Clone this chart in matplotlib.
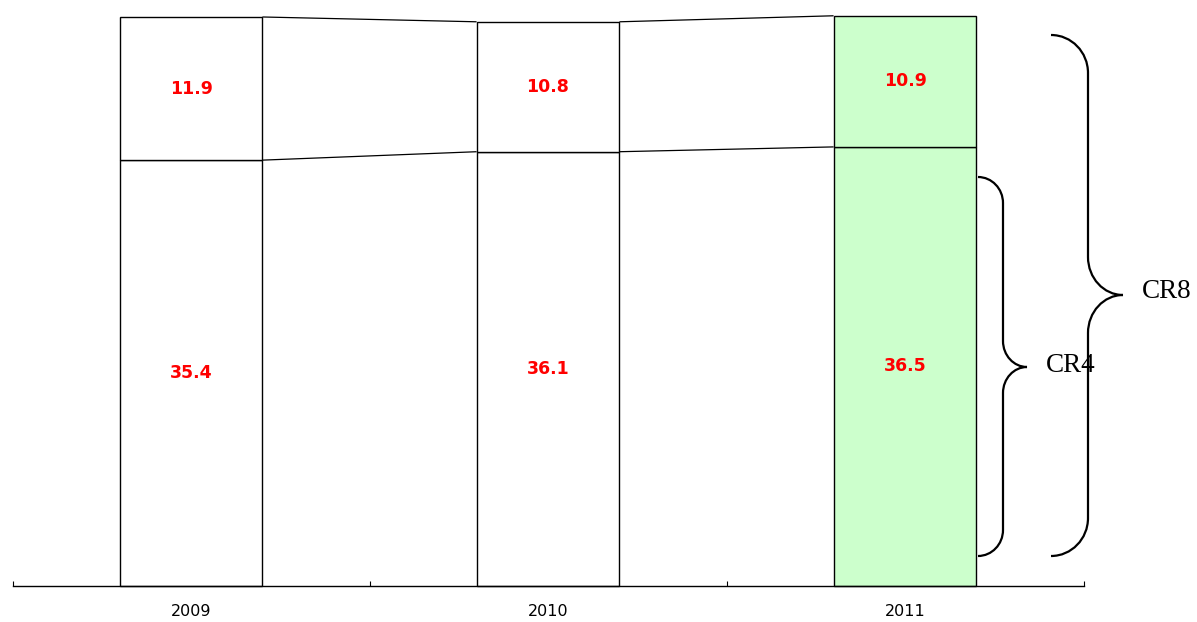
import matplotlib
matplotlib.use("Agg")
import matplotlib.pyplot as plt
from matplotlib.path import Path
from matplotlib.patches import PathPatch
import numpy as np

years = ["2009", "2010", "2011"]
cr4 = [35.4, 36.1, 36.5]
top4 = [11.9, 10.8, 10.9]
fills = ["white", "white", "#CCFFCC"]

W, H = 1197, 622
fig = plt.figure(figsize=(W / 100, H / 100), dpi=100)
base_px = 586
ppu = 12.03
ax_h_px = 580
ax = fig.add_axes([12.5 / W, 1 - base_px / H, (1083.5 - 12.5) / W, ax_h_px / H])
ax.set_xlim(-0.5, 2.5)
ax.set_ylim(0, ax_h_px / ppu)

x = np.arange(len(years))
bw = 0.4
ax.bar(x, cr4, width=bw, color=fills, edgecolor="black", linewidth=1.0, clip_on=False)
ax.bar(x, top4, bottom=cr4, width=bw, color=fills, edgecolor="black", linewidth=1.0, clip_on=False)

tot = [a + b for a, b in zip(cr4, top4)]
for i in range(len(years) - 1):
    for lv in (cr4, tot):
        ax.plot([x[i] + bw / 2, x[i + 1] - bw / 2], [lv[i], lv[i + 1]], color="black", lw=0.9,
                clip_on=False, solid_capstyle="butt")

for i in range(len(years)):
    ax.text(x[i], cr4[i] / 2, f"{cr4[i]:.1f}", color="red", fontweight="bold", fontsize=12.5,
            ha="center", va="center", family="DejaVu Sans")
    ax.text(x[i], cr4[i] + top4[i] / 2, f"{top4[i]:.1f}", color="red", fontweight="bold", fontsize=12.5,
            ha="center", va="center", family="DejaVu Sans")
    ax.text(x[i], -26 / ppu, years[i], ha="center", va="center", fontsize=11.5, family="DejaVu Sans",
            clip_on=False)

for s in ("top", "left", "right"):
    ax.spines[s].set_visible(False)
ax.spines["bottom"].set_linewidth(1.0)
ax.set_yticks([])
ax.set_xticks([])
ax.set_xticks([-0.5, 0.5, 1.5, 2.5], minor=True)
ax.tick_params(axis="x", which="minor", direction="in", length=3.6, width=0.8)


def px(xp, yp):
    return (xp / W, 1 - yp / H)


def brace(x0, xv, xt, ytop, ymid, ybot, r):
    k = 0.5523
    rx = xv - x0
    rt = xt - xv
    pts = [
        (x0, ytop),
        (x0 + k * rx, ytop), (xv, ytop + r - k * r), (xv, ytop + r),
        (xv, ymid - r),
        (xv, ymid - r + k * r), (xt - k * rt, ymid), (xt, ymid),
        (xt - k * rt, ymid), (xv, ymid + r - k * r), (xv, ymid + r),
        (xv, ybot - r),
        (xv, ybot - r + k * r), (x0 + k * rx, ybot), (x0, ybot),
    ]
    codes = [Path.MOVETO,
             Path.CURVE4, Path.CURVE4, Path.CURVE4,
             Path.LINETO,
             Path.CURVE4, Path.CURVE4, Path.CURVE4,
             Path.CURVE4, Path.CURVE4, Path.CURVE4,
             Path.LINETO,
             Path.CURVE4, Path.CURVE4, Path.CURVE4]
    verts = [px(a, b) for a, b in pts]
    fig.add_artist(PathPatch(Path(verts, codes), fill=False, lw=1.6, edgecolor="black",
                             transform=fig.transFigure, capstyle="butt"))


brace(978, 1003, 1027, 177, 367, 556, 26)
brace(1051, 1088, 1123, 35, 295, 556, 38)

fig.text(*px(1046, 366), "CR4", family="Liberation Serif", fontsize=19.5, ha="left", va="center")
fig.text(*px(1142, 292), "CR8", family="Liberation Serif", fontsize=19.5, ha="left", va="center")

fig.savefig("out.png", dpi=100, facecolor="white")
